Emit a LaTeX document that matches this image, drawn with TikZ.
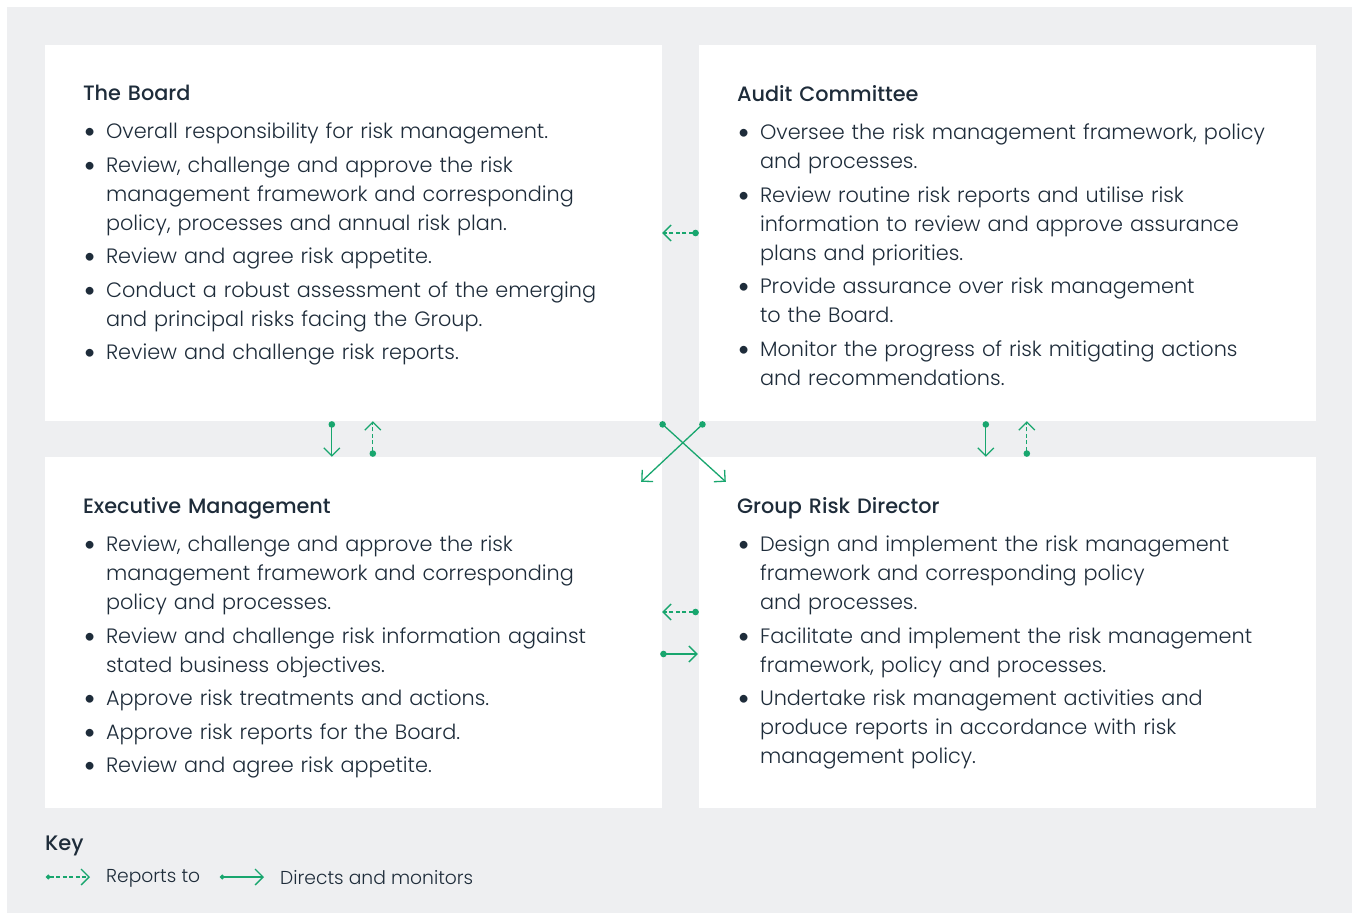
\documentclass[tikz,border=0pt]{standalone}
\usepackage{fontspec}
\IfFontExistsTF{Poppins Light}{\setmainfont{Poppins Light}[BoldFont=Poppins Medium]}{\setmainfont{Poppins}}
\newfontfamily\dotfont{Lato}
\usetikzlibrary{arrows.meta,calc}
\definecolor{ink}{RGB}{30,44,58}
\definecolor{leaf}{RGB}{24,166,110}
\definecolor{mist}{RGB}{238,239,241}
\newcommand{\itm}{\par\vspace{4.5pt}\noindent\hangindent=23pt\hangafter=1\hbox to 23pt{\hskip0.5pt{\dotfont\fontsize{21}{0}\selectfont\textbullet}\hfil}}
\newcommand{\ttl}[1]{\textbf{#1}\par\vspace{5pt}}

\begin{document}
\begin{tikzpicture}[x=1pt,y=-1pt,
	panel/.style={draw=none,fill=white,minimum width=617pt,inner sep=0pt},
	paneltext/.style={anchor=north west,text width=590pt,align=left,inner sep=0pt,text=ink,font=\fontsize{20.8}{29}\selectfont},
	keytext/.style={anchor=west,inner sep=0pt,text=ink,font=\fontsize{18.7}{24}\selectfont},
	reports/.style={leaf,line width=1.3pt,dash pattern=on 4pt off 2.5pt,{Circle[length=6.5pt]}-{Straight Barb[length=8pt,width=16pt]}},
	directs/.style={leaf,line width=1.3pt,{Circle[length=6.5pt]}-{Straight Barb[length=8pt,width=16pt]}},
	smalldot/.style={{Circle[length=4.5pt]}-{Straight Barb[length=8pt,width=16pt]}}]
	\useasboundingbox (0,0) rectangle (1359,920);
	\fill[mist] (7,7) rectangle (1352,913);
	\begin{scope}[every node/.style={panel}]
	\node[minimum height=376pt] (tl) at (353.5,233) {};
	\node[minimum height=376pt] (tr) at (1007.5,233) {};
	\node[minimum height=351pt] (bl) at (353.5,632.5) {};
	\node[minimum height=351pt] (br) at (1007.5,632.5) {};
	\end{scope}
	\node[paneltext] (tltext) at ($(tl.north west)+(38,40)$) {\ttl{The Board}
		\itm Overall responsibility for risk management.
		\itm Review, challenge and approve the risk\newline management framework and corresponding\newline policy, processes and annual risk plan.
		\itm Review and agree risk appetite.
		\itm Conduct a robust assessment of the emerging\newline and principal risks facing the Group.
		\itm Review and challenge risk reports.\par};
	\node[paneltext] (trtext) at ($(tr.north west)+(38,40)$) {\ttl{Audit Committee}
		\itm Oversee the risk management framework, policy\newline and processes.
		\itm Review routine risk reports and utilise risk\newline information to review and approve assurance\newline plans and priorities.
		\itm Provide assurance over risk management\newline to the Board.
		\itm Monitor the progress of risk mitigating actions\newline and recommendations.\par};
	\node[paneltext] (bltext) at ($(bl.north west)+(38,40)$) {\ttl{Executive Management}
		\itm Review, challenge and approve the risk\newline management framework and corresponding\newline policy and processes.
		\itm Review and challenge risk information against\newline stated business objectives.
		\itm Approve risk treatments and actions.
		\itm Approve risk reports for the Board.
		\itm Review and agree risk appetite.\par};
	\node[paneltext] (brtext) at ($(br.north west)+(38,40)$) {\ttl{Group Risk Director}
		\itm Design and implement the risk management\newline framework and corresponding policy\newline and processes.
		\itm Facilitate and implement the risk management\newline framework, policy and processes.
		\itm Undertake risk management activities and\newline produce reports in accordance with risk\newline management policy.\par};
	\draw [reports] (tr.west) -- (tl.east);
	\draw [directs] ($(tl.south west)+(287,0)$) -- ($(bl.north west)+(287,0)$);
	\draw [reports] ($(bl.north west)+(328,0)$) -- ($(tl.south west)+(328,0)$);
	\draw [directs] ($(tr.south west)+(287,0)$) -- ($(br.north west)+(287,0)$);
	\draw [reports] ($(br.north west)+(328,0)$) -- ($(tr.south west)+(328,0)$);
	\draw [directs] ($(tl.south east)+(-2,1)$) -- ($(br.north west)+(27,25)$);
	\draw [directs] ($(tr.south west)+(6,1)$) -- ($(bl.north east)+(-21,25)$);
	\draw [reports] ($(br.west)+(0,-20.5)$) -- ($(bl.east)+(0,-20.5)$);
	\draw [directs] ($(bl.east)+(-2,21.5)$) -- ($(br.west)+(-1,21.5)$);
	\node[anchor=base west,inner sep=0pt,text=ink,font=\fontsize{21}{29}\selectfont\bfseries] (key) at (45,850) {Key};
	\coordinate (r1) at (46,877);
	\coordinate (r2) at (90,877);
	\coordinate (d1) at (220,877);
	\coordinate (d2) at (264,877);
	\draw [reports,smalldot] (r1) -- (r2);
	\draw [directs,smalldot] (d1) -- (d2);
	\node[keytext] (rep) at (106,878) {Reports to};
	\node[keytext] (dir) at (280,878) {Directs and monitors};
\end{tikzpicture}
\end{document}
